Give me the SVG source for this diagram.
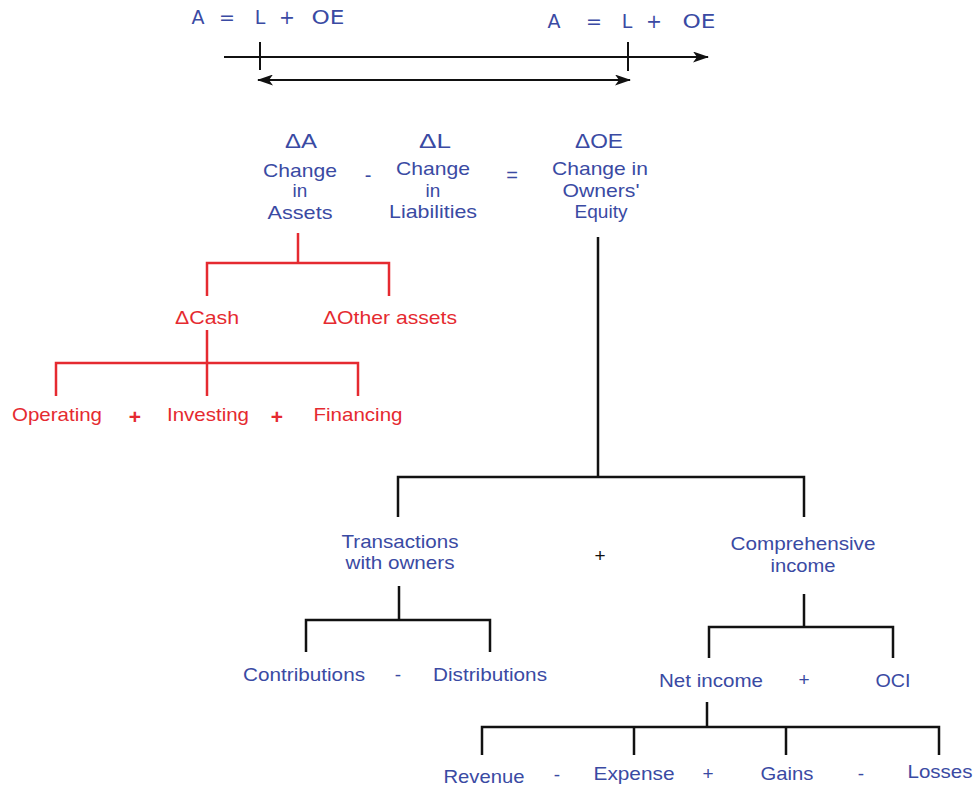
<svg xmlns="http://www.w3.org/2000/svg" width="978" height="793" viewBox="0 0 978 793">
  <defs>
    <style>
      .t { font-family: "Liberation Sans", Arial, sans-serif; font-size: 19px; text-anchor: middle; }
      .b { fill: #3a4aa3; }
      .r { fill: #e52a30; }
      .k { fill: #111; }
      .eq { font-family: "DejaVu Sans", "Liberation Sans", sans-serif; font-size: 19px; fill: #3a4aa3; text-anchor: middle; }
      .lk { stroke: #111; stroke-width: 2.5; fill: none; }
      .lr { stroke: #e52a30; stroke-width: 2.5; fill: none; }
      .tl { stroke: #111; stroke-width: 2; fill: none; }
    </style>
    <marker id="arrow" viewBox="0 0 16 11" refX="15" refY="5.5" markerWidth="16" markerHeight="11" markerUnits="userSpaceOnUse" orient="auto-start-reverse">
      <path d="M0,0 L16,5.5 L0,11 L4,5.5 z" fill="#111"/>
    </marker>
  </defs>

  <!-- accounting equation at two points in time -->
  <g id="equation-start">
    <text class="eq" x="198" y="24">A</text>
    <text class="eq" x="227" y="24">=</text>
    <text class="eq" x="260" y="24">L</text>
    <text class="eq" x="287" y="24">+</text>
    <text class="eq" x="328" y="24" textLength="33" lengthAdjust="spacingAndGlyphs">OE</text>
  </g>
  <g id="equation-end">
    <text class="eq" x="554" y="28">A</text>
    <text class="eq" x="594" y="28">=</text>
    <text class="eq" x="627" y="28">L</text>
    <text class="eq" x="654" y="28">+</text>
    <text class="eq" x="699" y="28" textLength="33" lengthAdjust="spacingAndGlyphs">OE</text>
  </g>

  <!-- timeline -->
  <g id="timeline">
    <line class="tl" x1="224" y1="57" x2="708" y2="57" marker-end="url(#arrow)"/>
    <line class="tl" x1="260" y1="42" x2="260" y2="70"/>
    <line class="tl" x1="628" y1="42" x2="628" y2="71"/>
    <line class="tl" x1="258" y1="80" x2="630" y2="80" marker-start="url(#arrow)" marker-end="url(#arrow)"/>
  </g>

  <!-- change terms -->
  <g id="delta-assets">
    <text class="t b" x="301" y="148" style="font-size:20px" textLength="32" lengthAdjust="spacingAndGlyphs">ΔA</text>
    <text class="t b" x="300" y="177" textLength="74" lengthAdjust="spacingAndGlyphs">Change</text>
    <text class="t b" x="300" y="197">in</text>
    <text class="t b" x="300" y="219" textLength="65" lengthAdjust="spacingAndGlyphs">Assets</text>
  </g>
  <text class="t b" x="368" y="182" style="font-size:20px">-</text>
  <g id="delta-liabilities">
    <text class="t b" x="435" y="148" style="font-size:20px" textLength="32" lengthAdjust="spacingAndGlyphs">ΔL</text>
    <text class="t b" x="433" y="175" textLength="74" lengthAdjust="spacingAndGlyphs">Change</text>
    <text class="t b" x="433" y="197">in</text>
    <text class="t b" x="433" y="218" textLength="88" lengthAdjust="spacingAndGlyphs">Liabilities</text>
  </g>
  <text class="t b" x="512" y="182" style="font-size:20px">=</text>
  <g id="delta-equity">
    <text class="t b" x="599" y="148" style="font-size:20px" textLength="48" lengthAdjust="spacingAndGlyphs">ΔOE</text>
    <text class="t b" x="600" y="175" textLength="96" lengthAdjust="spacingAndGlyphs">Change in</text>
    <text class="t b" x="601" y="197" textLength="77" lengthAdjust="spacingAndGlyphs">Owners'</text>
    <text class="t b" x="601" y="218" textLength="53" lengthAdjust="spacingAndGlyphs">Equity</text>
  </g>

  <!-- asset side (cash flows) -->
  <g id="cash">
    <text class="t r" x="207" y="324" textLength="64" lengthAdjust="spacingAndGlyphs">ΔCash</text>
  </g>
  <g id="other-assets">
    <text class="t r" x="390" y="324" textLength="134" lengthAdjust="spacingAndGlyphs">ΔOther assets</text>
  </g>
  <g id="operating">
    <text class="t r" x="57" y="421" textLength="90" lengthAdjust="spacingAndGlyphs">Operating</text>
  </g>
  <text class="t r" x="135" y="424" style="font-size:21px;font-weight:bold">+</text>
  <g id="investing">
    <text class="t r" x="208" y="421" textLength="82" lengthAdjust="spacingAndGlyphs">Investing</text>
  </g>
  <text class="t r" x="277" y="424" style="font-size:21px;font-weight:bold">+</text>
  <g id="financing">
    <text class="t r" x="358" y="421" textLength="89" lengthAdjust="spacingAndGlyphs">Financing</text>
  </g>

  <!-- equity side -->
  <g id="transactions-with-owners">
    <text class="t b" x="400" y="548" textLength="117" lengthAdjust="spacingAndGlyphs">Transactions</text>
    <text class="t b" x="400" y="569" textLength="109" lengthAdjust="spacingAndGlyphs">with owners</text>
  </g>
  <text class="t k" x="600" y="562" style="font-size:19px">+</text>
  <g id="comprehensive-income">
    <text class="t b" x="803" y="550" textLength="145" lengthAdjust="spacingAndGlyphs">Comprehensive</text>
    <text class="t b" x="803" y="572" textLength="65" lengthAdjust="spacingAndGlyphs">income</text>
  </g>
  <g id="contributions">
    <text class="t b" x="304" y="681" textLength="122" lengthAdjust="spacingAndGlyphs">Contributions</text>
  </g>
  <text class="t b" x="398" y="681">-</text>
  <g id="distributions">
    <text class="t b" x="490" y="681" textLength="114" lengthAdjust="spacingAndGlyphs">Distributions</text>
  </g>
  <g id="net-income">
    <text class="t b" x="711" y="687" textLength="104" lengthAdjust="spacingAndGlyphs">Net income</text>
  </g>
  <text class="t b" x="804" y="686">+</text>
  <g id="oci">
    <text class="t b" x="893" y="687" textLength="35" lengthAdjust="spacingAndGlyphs">OCI</text>
  </g>
  <g id="revenue">
    <text class="t b" x="484" y="783" textLength="81" lengthAdjust="spacingAndGlyphs">Revenue</text>
  </g>
  <text class="t b" x="557" y="781">-</text>
  <g id="expense">
    <text class="t b" x="634" y="780" textLength="81" lengthAdjust="spacingAndGlyphs">Expense</text>
  </g>
  <text class="t b" x="708" y="780">+</text>
  <g id="gains">
    <text class="t b" x="787" y="780" textLength="53" lengthAdjust="spacingAndGlyphs">Gains</text>
  </g>
  <text class="t b" x="861" y="780">-</text>
  <g id="losses">
    <text class="t b" x="940" y="778" textLength="65" lengthAdjust="spacingAndGlyphs">Losses</text>
  </g>

  <!-- tree connectors -->
  <g id="connectors">
    <path class="lr" d="M298,233 V263 M207,296 V263 H389 V296"/>
    <path class="lr" d="M207,330 V396 M56,396 V363 H358 V396"/>
    <path class="lk" d="M598,237 V477 M398,517 V477 H804 V517"/>
    <path class="lk" d="M399,586 V620 M306,652 V620 H490 V652"/>
    <path class="lk" d="M804,594 V627 M709,658 V627 H893 V658"/>
    <path class="lk" d="M707,702 V727 M482,755 V727 H939 V755 M634,727 V755 M786,727 V755"/>
  </g>
</svg>
